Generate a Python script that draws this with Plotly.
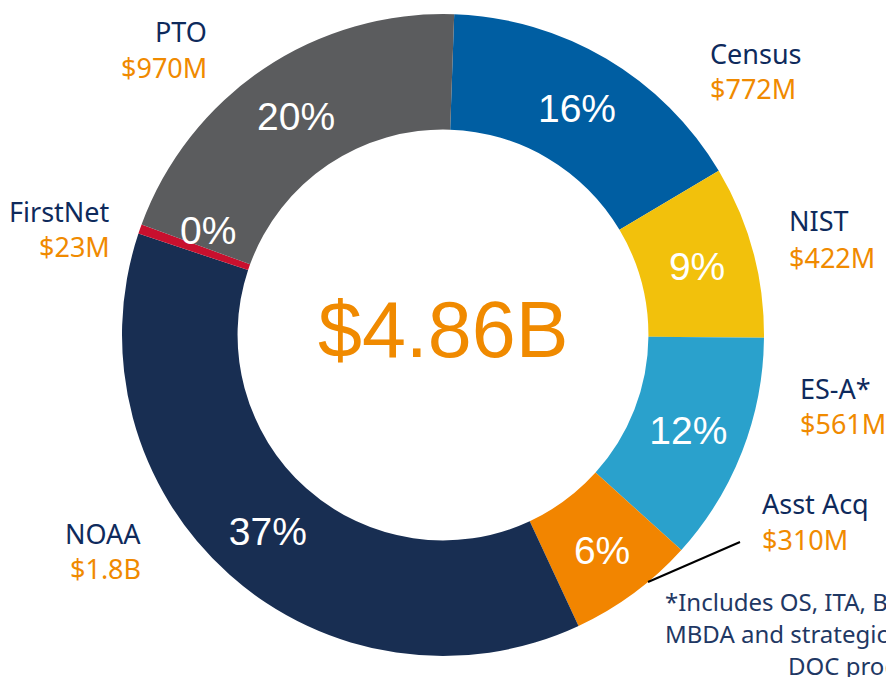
import plotly.graph_objects as go

# ---- data ----
agencies = ["Census", "NIST", "ES-A*", "Asst Acq", "NOAA", "FirstNet", "PTO"]
amounts_musd = [772, 422, 561, 310, 1800, 23, 970]
amount_labels = ["$772M", "$422M", "$561M", "$310M", "$1.8B", "$23M", "$970M"]
total_label = "$4.86B"
footnote_lines = ["*Includes OS, ITA, BIS, EDA,", "MBDA and strategic investments", "DOC programs"]

colors = ["#005EA2", "#F2C10C", "#2AA1CC", "#F28500", "#182E52", "#C8102E", "#5B5C5E"]
NAVY = "#0E2A5C"
ORANGE = "#F08A00"
W, H = 886, 677

textpos = ["none" if a == "FirstNet" else "inside" for a in agencies]

fig = go.Figure(go.Pie(
    labels=agencies,
    values=amounts_musd,
    hole=0.64,
    sort=False,
    direction="clockwise",
    rotation=2,
    domain=dict(x=[0, 1], y=[21 / H, 1 - 14 / H]),
    marker=dict(colors=colors, line=dict(width=0)),
    texttemplate="%{percent:.0%}",
    textposition=textpos,
    insidetextorientation="horizontal",
    insidetextfont=dict(family="Liberation Sans, Arial", size=39, color="white"),
    showlegend=False,
    hoverinfo="label+value+percent",
))

def px(x, y):
    return x / W, 1 - y / H

# side labels: (x, name y, value y, anchor)
label_pos = {
    "Census": (708, 53, 89, "left"),
    "NIST": (787, 221, 257, "left"),
    "ES-A*": (798, 388, 423, "left"),
    "Asst Acq": (760, 503, 539, "left"),
    "NOAA": (143, 533, 568, "right"),
    "FirstNet": (112, 211, 246, "right"),
    "PTO": (209, 32, 67, "right"),
}
annotations = []
for name, amt in zip(agencies, amount_labels):
    x, yn, yv, anc = label_pos[name]
    for txt, yy, col in [(name, yn, NAVY), (amt, yv, ORANGE)]:
        ax, ay = px(x, yy)
        annotations.append(dict(x=ax, y=ay, xref="paper", yref="paper", text=txt,
                                showarrow=False, xanchor=anc, yanchor="middle",
                                font=dict(family="Noto Sans, Liberation Sans", size=27, color=col)))

# 0% label for the tiny FirstNet slice
total = sum(amounts_musd)
fn_pct = f"{round(100 * amounts_musd[agencies.index('FirstNet')] / total)}%"
ax, ay = px(208, 230)
annotations.append(dict(x=ax, y=ay, xref="paper", yref="paper", text=fn_pct, showarrow=False,
                        xanchor="center", yanchor="middle",
                        font=dict(family="Liberation Sans, Arial", size=39, color="white")))

# center total
ax, ay = px(443, 329)
annotations.append(dict(x=ax, y=ay, xref="paper", yref="paper", text=total_label, showarrow=False,
                        xanchor="center", yanchor="middle",
                        font=dict(family="Liberation Sans, Arial", size=79, color=ORANGE)))

# footnote
for txt, (fx, fy) in zip(footnote_lines, [(663, 601), (663, 633), (786, 665)]):
    ax, ay = px(fx, fy)
    annotations.append(dict(x=ax, y=ay, xref="paper", yref="paper", text=txt, showarrow=False,
                            xanchor="left", yanchor="middle",
                            font=dict(family="Noto Sans, Liberation Sans", size=24, color="#1F3864")))

x0, y0 = px(648, 582)
x1, y1 = px(740, 542)
fig.update_layout(
    width=W, height=H,
    margin=dict(l=0, r=0, t=0, b=0),
    paper_bgcolor="white", plot_bgcolor="white",
    annotations=annotations,
    shapes=[dict(type="line", xref="paper", yref="paper", x0=x0, y0=y0, x1=x1, y1=y1,
                 line=dict(color="black", width=2))],
)

fig.write_html("out.html", config={"displayModeBar": False},
               post_script="document.body.style.margin='0';")
